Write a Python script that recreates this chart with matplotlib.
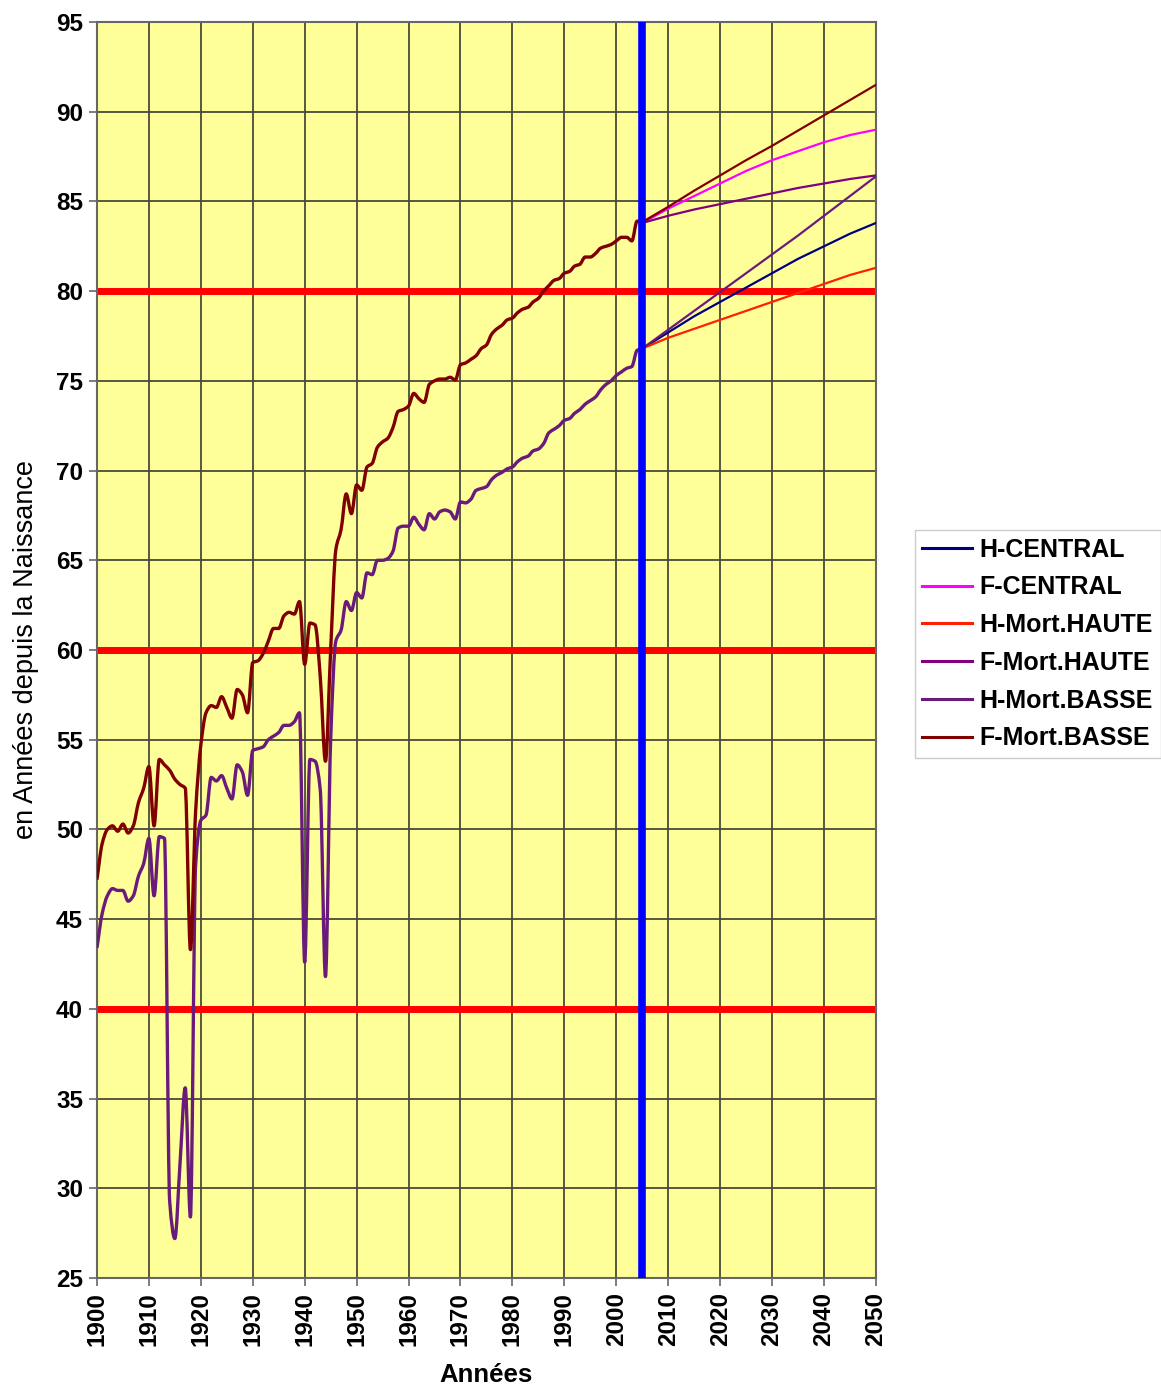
import numpy as np
import matplotlib
matplotlib.use("Agg")
import matplotlib.pyplot as plt
from matplotlib.path import Path
from matplotlib.patches import PathPatch

plt.rcParams['font.family'] = ['Liberation Sans', 'DejaVu Sans']

# esperance de vie a la naissance, France, donnees annuelles 1900-2005
annees_hist = list(range(1900, 2006))

femmes_hist = [
    47.2, 49.2, 50.0, 50.2, 49.9, 50.3, 49.8, 50.2, 51.5, 52.3,   # 1900-1909
    53.5, 50.2, 53.9, 53.6, 53.3, 52.8, 52.5, 52.3, 43.3, 51.0,   # 1910-1919
    54.7, 56.5, 56.9, 56.8, 57.4, 56.8, 56.2, 57.8, 57.5, 56.5,   # 1920-1929
    59.3, 59.4, 59.8, 60.5, 61.2, 61.2, 61.9, 62.1, 62.0, 62.7,   # 1930-1939
    59.2, 61.5, 61.4, 58.5, 53.8, 60.0, 65.6, 66.7, 68.7, 67.6,   # 1940-1949
    69.2, 68.9, 70.2, 70.4, 71.3, 71.6, 71.8, 72.4, 73.3, 73.4,   # 1950-1959
    73.6, 74.3, 74.0, 73.8, 74.8, 75.0, 75.1, 75.1, 75.2, 75.05,  # 1960-1969
    75.9, 76.0, 76.2, 76.4, 76.8, 77.0, 77.6, 77.9, 78.1, 78.4,   # 1970-1979
    78.5, 78.8, 79.0, 79.1, 79.4, 79.6, 80.0, 80.3, 80.6, 80.7,   # 1980-1989
    81.0, 81.1, 81.4, 81.5, 81.9, 81.9, 82.1, 82.4, 82.5, 82.6,   # 1990-1999
    82.8, 83.0, 83.0, 82.8, 83.9, 83.8,                           # 2000-2005
]

hommes_hist = [
    43.4, 45.3, 46.3, 46.7, 46.6, 46.6, 46.0, 46.3, 47.4, 48.1,   # 1900-1909
    49.5, 46.3, 49.6, 49.5, 29.3, 27.2, 31.4, 35.6, 28.4, 48.0,   # 1910-1919
    50.5, 50.8, 52.9, 52.7, 53.0, 52.3, 51.7, 53.6, 53.2, 51.9,   # 1920-1929
    54.4, 54.5, 54.6, 55.0, 55.2, 55.4, 55.8, 55.8, 56.0, 56.5,   # 1930-1939
    42.6, 53.9, 53.8, 52.2, 41.8, 55.0, 60.5, 61.1, 62.7, 62.2,   # 1940-1949
    63.2, 62.9, 64.3, 64.2, 65.0, 65.0, 65.1, 65.5, 66.8, 66.9,   # 1950-1959
    66.9, 67.4, 67.0, 66.7, 67.6, 67.3, 67.7, 67.8, 67.7, 67.3,   # 1960-1969
    68.25, 68.2, 68.4, 68.9, 69.0, 69.1, 69.5, 69.75, 69.9, 70.1, # 1970-1979
    70.2, 70.5, 70.7, 70.8, 71.1, 71.2, 71.5, 72.1, 72.3, 72.5,   # 1980-1989
    72.8, 72.9, 73.2, 73.4, 73.7, 73.9, 74.1, 74.5, 74.8, 75.0,   # 1990-1999
    75.3, 75.5, 75.7, 75.8, 76.7, 76.8,                           # 2000-2005
]

# projections 2005-2050
annees_proj = [2005, 2010, 2015, 2020, 2025, 2030, 2035, 2040, 2045, 2050]
h_central = [76.8, 77.7, 78.6, 79.4, 80.2, 81.0, 81.8, 82.5, 83.2, 83.8]
f_central = [83.8, 84.6, 85.3, 86.0, 86.7, 87.3, 87.8, 88.3, 88.7, 89.0]
h_haute = [76.8, 77.4, 77.9, 78.4, 78.9, 79.4, 79.9, 80.4, 80.9, 81.3]
f_haute = [83.8, 84.2, 84.55, 84.85, 85.15, 85.45, 85.75, 86.0, 86.25, 86.45]
h_basse = [76.8, 77.85, 78.9, 79.95, 81.0, 82.05, 83.1, 84.2, 85.3, 86.4]
f_basse = [83.85, 84.7, 85.6, 86.45, 87.3, 88.1, 88.95, 89.8, 90.65, 91.5]

noms = ['H-CENTRAL', 'F-CENTRAL', 'H-Mort.HAUTE', 'F-Mort.HAUTE', 'H-Mort.BASSE', 'F-Mort.BASSE']
series = [h_central, f_central, h_haute, f_haute, h_basse, f_basse]
couleurs = ['#000080', '#FF00FF', '#FF2000', '#800080', '#6A1A7A', '#800000']

seuils = [40, 60, 80]
annee_ref = 2005


def chemin_lisse(x, y):
    # trace lisse sans depassement (tangentes monotones), passe par chaque point
    x = np.asarray(x, float)
    y = np.asarray(y, float)
    h = np.diff(x)
    d = np.diff(y) / h
    m = np.zeros_like(y)
    m[0], m[-1] = d[0], d[-1]
    for i in range(1, len(y) - 1):
        if d[i - 1] * d[i] > 0:
            m[i] = 2 * d[i - 1] * d[i] / (d[i - 1] + d[i])
    verts = [(x[0], y[0])]
    codes = [Path.MOVETO]
    for i in range(len(x) - 1):
        verts += [(x[i] + h[i] / 3, y[i] + m[i] * h[i] / 3),
                  (x[i + 1] - h[i] / 3, y[i + 1] - m[i + 1] * h[i] / 3),
                  (x[i + 1], y[i + 1])]
        codes += [Path.CURVE4] * 3
    return Path(verts, codes)


fig = plt.figure(figsize=(11.61, 13.92), dpi=100)
ax = fig.add_axes([0.0835, 0.0819, 0.671, 0.9023])
ax.set_facecolor('#FFFF99')

ax.set_xlim(1900, 2050)
ax.set_ylim(25, 95)
ax.set_xticks(np.arange(1900, 2051, 10))
ax.set_yticks(np.arange(25, 96, 5))
ax.grid(True, color='#4a4a3a', linewidth=1.3, zorder=1)
ax.set_axisbelow(True)

for s in seuils:
    ax.axhline(s, color='#FF0000', linewidth=5, zorder=2)

# historique (les series se superposent jusqu'en 2005)
for vals, c in [(hommes_hist, couleurs[4]), (femmes_hist, couleurs[5])]:
    ax.add_patch(PathPatch(chemin_lisse(annees_hist, vals), fill=False, edgecolor=c,
                           linewidth=2.4, joinstyle='round', zorder=3))

for nom, val, c in zip(noms, series, couleurs):
    ax.plot(annees_proj, val, color=c, linewidth=1.6, label=nom, zorder=4)

ax.axvline(annee_ref, color='#0000FF', linewidth=5.5, zorder=5)

for sp in ax.spines.values():
    sp.set_color('#666666')
    sp.set_linewidth(1.5)
ax.tick_params(axis='both', direction='out', length=6, width=1.2, color='#666666',
               labelsize=17.5, pad=4)
for lab in ax.get_xticklabels() + ax.get_yticklabels():
    lab.set_fontweight('bold')
for lab in ax.get_xticklabels():
    lab.set_rotation(90)

ax.set_xlabel('Années', fontsize=18.5, fontweight='bold', labelpad=12)
ax.set_ylabel('en Années depuis la Naissance', fontsize=19.5, labelpad=12)

leg = fig.legend(loc='center left', bbox_to_anchor=(0.788, 0.5374), fontsize=18,
                 frameon=True, fancybox=False, edgecolor='#cccccc', framealpha=1,
                 handlelength=2.0, handletextpad=0.3, labelspacing=0.55, borderpad=0.3,
                 borderaxespad=0)
for t in leg.get_texts():
    t.set_fontweight('bold')
for l in leg.get_lines():
    l.set_linewidth(2.2)

fig.savefig('out.png', dpi=100)
